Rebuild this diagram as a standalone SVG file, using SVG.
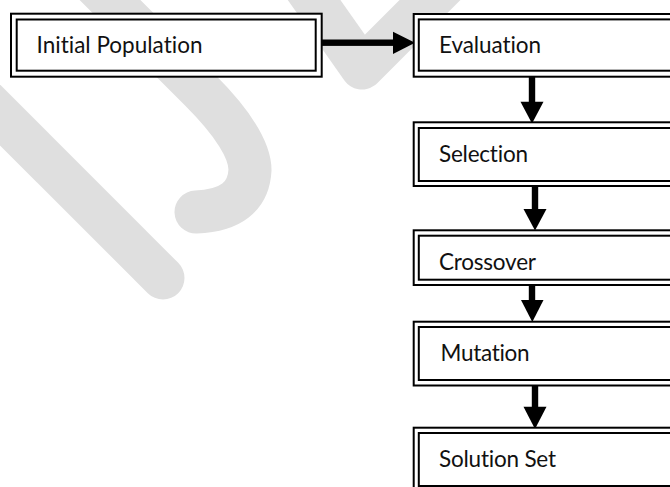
<svg xmlns="http://www.w3.org/2000/svg" width="670" height="487" viewBox="0 0 670 487">
  <style>
    .wm { fill: none; stroke: #dfdfdf; stroke-width: 43; stroke-linecap: round; stroke-linejoin: round; }
    .outer, .inner { fill: #ffffff; stroke: #000000; stroke-width: 2; }
    .inner { fill: none; }
    .lbl { font-family: Lato, "Open Sans", "Liberation Sans", sans-serif; font-size: 22.5px; fill: #111111; font-variant-ligatures: none; font-feature-settings: "liga" 0, "clig" 0; }
    .arr { fill: #000000; }
  </style>
  <rect x="0" y="0" width="670" height="487" fill="#ffffff"/>
  <g id="watermark">
    <path class="wm" d="M -40 75 L 163 278"/>
    <path class="wm" d="M 80 -30 L 200 90 Q 250 140 250 170 Q 248 210 196 212"/>
    <path class="wm" d="M 300 -20 L 362 68 L 450 -20"/>
  </g>
  <g id="connectors">
    <rect class="arr" x="321" y="39.5" width="73" height="6.4"/>
    <polygon class="arr" points="393,31.7 415,42.7 393,54"/>
    <rect class="arr" x="528.8" y="77" width="6.4" height="25"/>
    <polygon class="arr" points="520.5,101.7 543.5,101.7 532,123.5"/>
    <rect class="arr" x="531.8" y="185" width="6.4" height="25"/>
    <polygon class="arr" points="523.5,209 546.5,209 535,230.5"/>
    <rect class="arr" x="528.8" y="284" width="6.4" height="17"/>
    <polygon class="arr" points="521,300 543.5,300 532.3,322"/>
    <rect class="arr" x="531.8" y="385" width="6.4" height="23"/>
    <polygon class="arr" points="523.5,406.7 546.5,406.7 535,429"/>
  </g>
  <g id="initial-population">
    <rect class="outer" x="11" y="13.7" width="310.7" height="63"/>
    <rect class="inner" x="16.7" y="19.5" width="299" height="51.2"/>
    <text class="lbl" x="36.5" y="53.3" textLength="166">Initial Population</text>
  </g>
  <g id="evaluation">
    <rect class="outer" x="413.7" y="14" width="300" height="62.7"/>
    <rect class="inner" x="418.8" y="19.4" width="300" height="51.3"/>
    <text class="lbl" x="439" y="53.3" textLength="102">Evaluation</text>
  </g>
  <g id="selection">
    <rect class="outer" x="413.7" y="122.3" width="300" height="63.7"/>
    <rect class="inner" x="418.8" y="128" width="300" height="53"/>
    <text class="lbl" x="439" y="161.7" textLength="89">Selection</text>
  </g>
  <g id="crossover">
    <rect class="outer" x="413.7" y="230.3" width="300" height="54.7"/>
    <rect class="inner" x="418.8" y="235.7" width="300" height="44"/>
    <text class="lbl" x="439" y="270" textLength="97">Crossover</text>
  </g>
  <g id="mutation">
    <rect class="outer" x="413.7" y="321.7" width="300" height="63.8"/>
    <rect class="inner" x="418.8" y="327" width="300" height="53"/>
    <text class="lbl" x="440.5" y="361" textLength="89">Mutation</text>
  </g>
  <g id="solution-set">
    <rect class="outer" x="413.7" y="427.7" width="300" height="63.8"/>
    <rect class="inner" x="418.8" y="433" width="300" height="53"/>
    <text class="lbl" x="439" y="466.7" textLength="117">Solution Set</text>
  </g>
</svg>
